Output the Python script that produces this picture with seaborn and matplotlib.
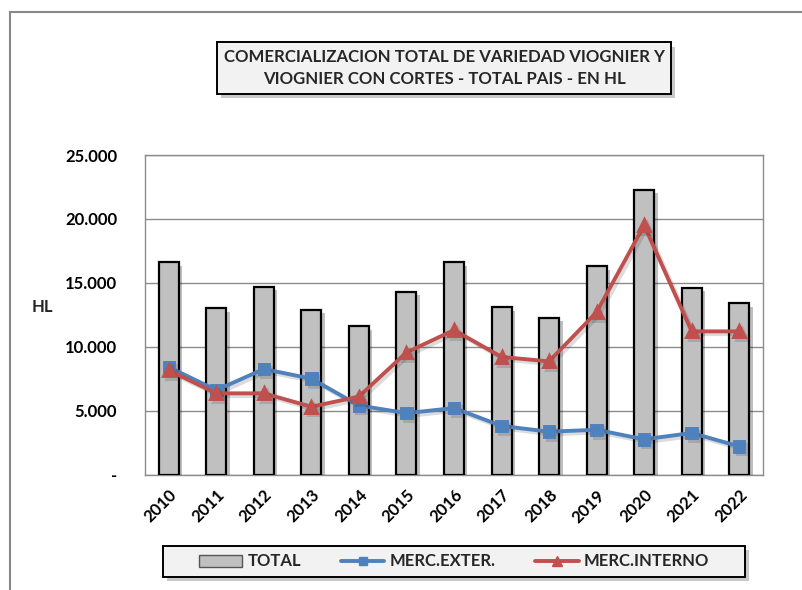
import matplotlib
matplotlib.use("Agg")
import matplotlib.pyplot as plt
import matplotlib.patheffects as pe
from matplotlib.patches import Patch, Rectangle
from matplotlib.lines import Line2D
import seaborn as sns
import pandas as pd

years = ["2010", "2011", "2012", "2013", "2014", "2015", "2016",
         "2017", "2018", "2019", "2020", "2021", "2022"]
total = [16600, 13000, 14700, 12900, 11600, 14300, 16600,
         13100, 12250, 16300, 22300, 14600, 13400]
merc_exter = [8400, 6600, 8250, 7500, 5400, 4800, 5200,
              3800, 3350, 3500, 2750, 3250, 2200]
merc_interno = [8150, 6350, 6350, 5300, 6100, 9550, 11300,
                9200, 8850, 12700, 19500, 11200, 11200]
yticks = [0, 5000, 10000, 15000, 20000, 25000]
ytick_labels = ["-", "5.000", "10.000", "15.000", "20.000", "25.000"]

title = "COMERCIALIZACION TOTAL DE VARIEDAD VIOGNIER Y\nVIOGNIER CON CORTES - TOTAL PAIS - EN HL"

df = pd.DataFrame({"year": years, "total": total,
                   "exter": merc_exter, "interno": merc_interno})

sns.set_theme(style="white")
plt.rcParams["font.family"] = ["Lato", "DejaVu Sans"]
plt.rcParams["font.weight"] = "bold"

BLUE = "#4f81bd"
RED = "#c0504d"
GRAY = "#c0c0c0"
GRID = "#8c8c8c"

fig = plt.figure(figsize=(8.03, 5.90), dpi=100)
ax = fig.add_axes([145 / 803, 1 - 474.5 / 590, 618 / 803, 319.5 / 590])

shadow = [pe.SimplePatchShadow(offset=(2.5, -2.5), shadow_rgbFace="black", alpha=0.25), pe.Normal()]

sns.barplot(data=df, x="year", y="total", color=GRAY, width=0.42,
            edgecolor="black", linewidth=1.6, saturation=1, ax=ax, zorder=3)
for p in ax.patches:
    p.set_path_effects(shadow)

lshadow = [pe.SimpleLineShadow(offset=(2, -2), alpha=0.15), pe.Normal()]
sns.pointplot(data=df, x="year", y="exter", color=BLUE, markers="s",
              linestyles="-", markersize=7.5, linewidth=2.8, ax=ax)
sns.pointplot(data=df, x="year", y="interno", color=RED, markers="^",
              linestyles="-", markersize=8.5, linewidth=2.8, ax=ax)
for ln in ax.lines:
    ln.set_zorder(5)
    ln.set_path_effects(lshadow)

ax.set_ylim(0, 25000)
ax.set_xlim(-0.5, len(years) - 0.5)
ax.set_yticks(yticks)
ax.set_yticklabels(ytick_labels, fontsize=12, fontweight="bold")
ax.yaxis.grid(True, color=GRID, linewidth=1)
ax.set_axisbelow(True)
for s in ax.spines.values():
    s.set_visible(True)
    s.set_color(GRID)
    s.set_linewidth(1)

ax.set_xlabel("")
ax.set_ylabel("")
ax.set_xticks(range(len(years)))
ax.set_xticklabels(years, rotation=45, ha="right", rotation_mode="anchor",
                   fontsize=12, fontweight="bold")
ax.tick_params(axis="x", length=0, pad=9)
ax.tick_params(axis="y", length=6, width=1, color=GRID, direction="out", pad=14)
ax.set_xticks([i + 0.5 for i in range(len(years) - 1)], minor=True)
ax.tick_params(axis="x", which="minor", length=6, width=1, color=GRID, direction="out")
for t in ax.get_xticklabels():
    t.set_color("black")
for t in ax.get_yticklabels():
    t.set_color("black")

fig.text(32 / 803, 1 - 307 / 590, "HL", fontsize=12, fontweight="bold",
         ha="left", va="center")

# title box with shadow
tb = fig.text(444 / 803, 1 - 68 / 590, title, ha="center", va="center",
              fontsize=12.1, fontweight="bold", linespacing=1.45,
              bbox=dict(boxstyle="square,pad=0.4", facecolor="#f2f2f2",
                        edgecolor="black", linewidth=1.4))
tb.get_bbox_patch().set_path_effects(
    [pe.SimplePatchShadow(offset=(3, -3), alpha=0.3), pe.Normal()])

# legend box
W, H = 803, 590
box = Rectangle((163 / W, 1 - 577 / H), (745 - 163) / W, (577 - 546) / H,
                transform=fig.transFigure, facecolor="#f2f2f2",
                edgecolor="black", linewidth=1.4, zorder=1)
box.set_path_effects([pe.SimplePatchShadow(offset=(3, -3), alpha=0.3), pe.Normal()])
fig.add_artist(box)

handles = [Patch(facecolor=GRAY, edgecolor="#555555", linewidth=1),
           Line2D([0], [0], color=BLUE, marker="s", lw=2.8, markersize=6),
           Line2D([0], [0], color=RED, marker="^", lw=2.8, markersize=7)]
leg = fig.legend(handles, ["TOTAL", "MERC.EXTER.", "MERC.INTERNO"],
                 loc="center", bbox_to_anchor=(454 / 803, 1 - 561.5 / 590),
                 ncol=3, frameon=False,
                 prop={"weight": "bold", "size": 12},
                 handlelength=2.6, handletextpad=0.3, columnspacing=2.4)
leg.set_zorder(2)

# outer chart frame (left and top edges visible)
fig.add_artist(Line2D([10 / 803, 10 / 803], [0, 1 - 12 / 590],
                      transform=fig.transFigure, color="#888888", lw=1.5))
fig.add_artist(Line2D([10 / 803, 1], [1 - 12 / 590, 1 - 12 / 590],
                      transform=fig.transFigure, color="#888888", lw=1.5))

fig.savefig("out.png", dpi=100)
